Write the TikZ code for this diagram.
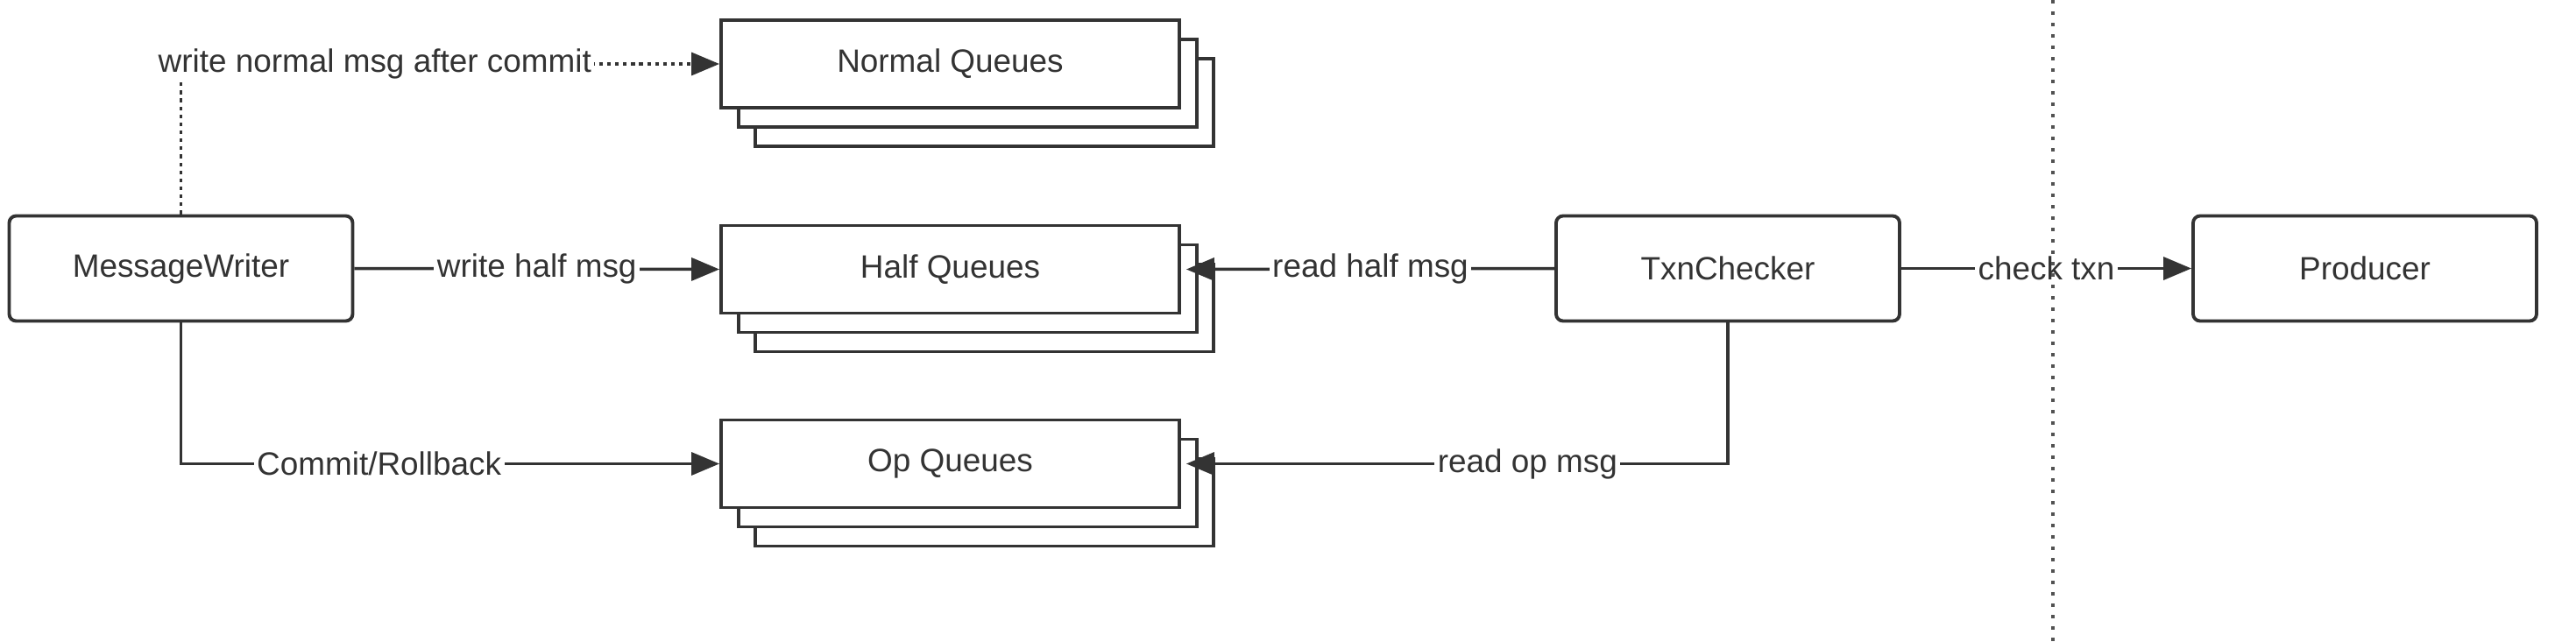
\documentclass[tikz,border=0pt]{standalone}
\usepackage{fontspec}
\setmainfont{Liberation Sans}
\usepackage{xcolor}
\usetikzlibrary{arrows.meta,shadows}
\definecolor{ink}{HTML}{333333}

\tikzset{
  box/.style={draw=ink, fill=white, line width=1.1pt, rounded corners=0.8mm,
    minimum width=3.92cm, minimum height=1.2cm, inner sep=0pt, text=ink,
    font=\fontsize{10.5}{12}\selectfont},
  queue/.style={draw=ink, fill=white, line width=1.1pt,
    minimum width=5.23cm, minimum height=1cm, inner sep=0pt, text=ink,
    font=\fontsize{10.5}{12}\selectfont,
    copy shadow={shadow xshift=3.9mm, shadow yshift=-4.4mm, draw=ink, line width=1.1pt},
    copy shadow={shadow xshift=2mm, shadow yshift=-2.2mm, draw=ink, line width=1.1pt}},
  lbl/.style={fill=white, inner sep=1pt, text=ink, font=\fontsize{10.5}{12}\selectfont},
  link/.style={draw=ink, line width=1pt},
}

\begin{document}
\begin{tikzpicture}[>={Stealth[inset=0pt, length=3.2mm, width=2.6mm]}, semithick]
    \useasboundingbox[fill=white] (0,0) rectangle (29.4,7.32);
		\node [box] (writer) at (2.065, 4.255) {MessageWriter};
		\node [queue] (normal) at (10.845, 6.59) {Normal Queues};
		\node [queue] (half) at (10.845, 4.245) {Half Queues};
		\node [queue] (op) at (10.845, 2.025) {Op Queues};
		\node [box] (checker) at (19.72, 4.255) {TxnChecker};
		\node [box] (producer) at (26.99, 4.255) {Producer};
		\coordinate (sepTop) at (23.43, 7.32);
		\coordinate (sepBot) at (23.43, 0);
		\draw [link, ->, dash pattern=on 1.2pt off 1.4pt] (writer.north) |- node [lbl, pos=0.68] {write normal msg after commit} (normal.west);
		\draw [link, ->] (writer.east) to node [lbl] {write half msg} (half.west);
		\draw [link, ->] (writer.south) |- node [lbl, pos=0.684] {Commit/Rollback} (op.west);
		\draw [link, ->] (checker.west) to node [lbl] {read half msg} ([xshift=0.6mm]half.east);
		\draw [link, ->] (checker.south) |- node [lbl, pos=0.685] {read op msg} ([xshift=0.6mm]op.east);
		\draw [link, ->] (checker.east) to node [lbl] {check txn} (producer.west);
		\draw [draw=ink!85, line width=1.1pt, dash pattern=on 1.1pt off 2.6pt] (sepTop) to (sepBot);
    \end{tikzpicture}
\end{document}
